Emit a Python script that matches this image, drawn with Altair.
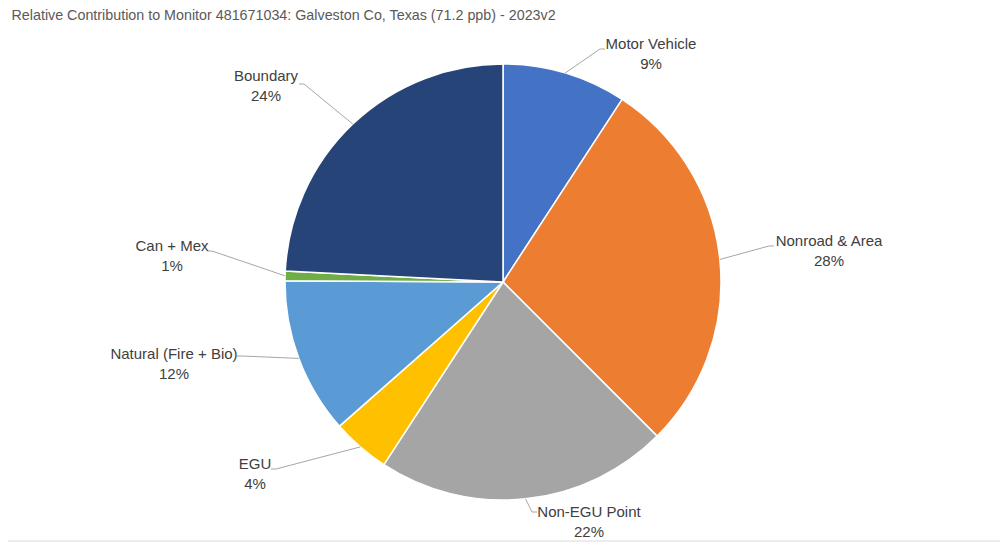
import altair as alt
import pandas as pd
import numpy as np

# ---- data ----
categories = ["Motor Vehicle", "Nonroad & Area", "Non-EGU Point", "EGU",
              "Natural (Fire + Bio)", "Can + Mex", "Boundary"]
shares = [9.2, 28.3, 21.7, 4.3, 11.6, 0.7, 24.2]
colors = ["#4472C4", "#ED7D31", "#A5A5A5", "#FFC000", "#5B9BD5", "#70AD47", "#264478"]
title_text = "Relative Contribution to Monitor 481671034: Galveston Co, Texas (71.2 ppb) - 2023v2"

# ---- label layout (px from pie centre, y pointing up; first text line) ----
label_center = [(148, 238), (326, 41), (86, -230), (-248, -182), (-329, -72), (-331, 36), (-237, 206)]
leader_end = [(102, 233), (271, 36), (34, -230), (-232, -187), (-266, -74), (-296, 31), (-204, 198)]
stub = 5

# ---- layout ----
W, H = 992, 505
PAD_TOP = 30
CX, CY = 495, 244          # pie centre inside the view
R = 218

xscale = alt.Scale(domain=[-CX, W - CX], range=[0, W])
yscale = alt.Scale(domain=[-(H - CY), CY], range=[H, 0])

df = pd.DataFrame({"category": categories, "value": shares, "idx": range(len(shares)),
                   "pct": [f"{round(v):d}%" for v in shares]})
df["label"] = df["category"] + "\n" + df["pct"]
df["tx"] = [p[0] for p in label_center]
df["ty"] = [p[1] for p in label_center]

# leader lines: from slice edge at mid angle -> elbow -> label
total = sum(shares)
cum = np.cumsum([0] + shares[:-1])
rows = []
for i, c in enumerate(categories):
    mid = 2 * np.pi * (cum[i] + shares[i] / 2) / total
    ex0, ey0 = R * np.sin(mid), R * np.cos(mid)
    ex, ey = leader_end[i]
    sgn = 1 if ex > 0 else -1
    rows += [
        {"category": c, "seq": 0, "x": ex0, "y": ey0},
        {"category": c, "seq": 1, "x": ex - sgn * stub, "y": ey},
        {"category": c, "seq": 2, "x": ex, "y": ey},
    ]
lines = pd.DataFrame(rows)

pie = alt.Chart(df).mark_arc(outerRadius=R, stroke="white", strokeWidth=1.5).encode(
    theta=alt.Theta("value:Q", stack=True),
    color=alt.Color("category:N", scale=alt.Scale(domain=categories, range=colors), legend=None),
    order=alt.Order("idx:Q"),
    x=alt.X(datum=0, type="quantitative", scale=xscale, axis=None),
    y=alt.Y(datum=0, type="quantitative", scale=yscale, axis=None),
)

leaders = alt.Chart(lines).mark_line(color="#A6A6A6", strokeWidth=1).encode(
    x=alt.X("x:Q", scale=xscale, axis=None),
    y=alt.Y("y:Q", scale=yscale, axis=None),
    detail="category:N",
    order="seq:Q",
)

labels = alt.Chart(df).mark_text(
    align="center", baseline="middle", lineBreak="\n", lineHeight=20,
    font="Liberation Sans", fontSize=15, color="#404040",
).encode(
    x=alt.X("tx:Q", scale=xscale, axis=None),
    y=alt.Y("ty:Q", scale=yscale, axis=None),
    text="label:N",
)

# light chart-area border along the bottom
border = alt.Chart(df.head(1)).mark_rule(color="#D9D9D9", strokeWidth=1).encode(
    x=alt.value(0), x2=alt.value(W), y=alt.value(H - 2)
)

chart = alt.layer(pie, leaders, labels, border).properties(
    width=W, height=H,
    title=alt.TitleParams(title_text, anchor="start", fontSize=14.3, font="Liberation Sans",
                          fontWeight="normal", color="#595959", dx=4, offset=14),
    autosize=alt.AutoSizeParams(type="none"),
    padding={"top": PAD_TOP, "left": 0, "right": 0, "bottom": 0},
).configure_view(stroke=None)

chart.save("out.html", embed_options={"renderer": "svg", "actions": False})
